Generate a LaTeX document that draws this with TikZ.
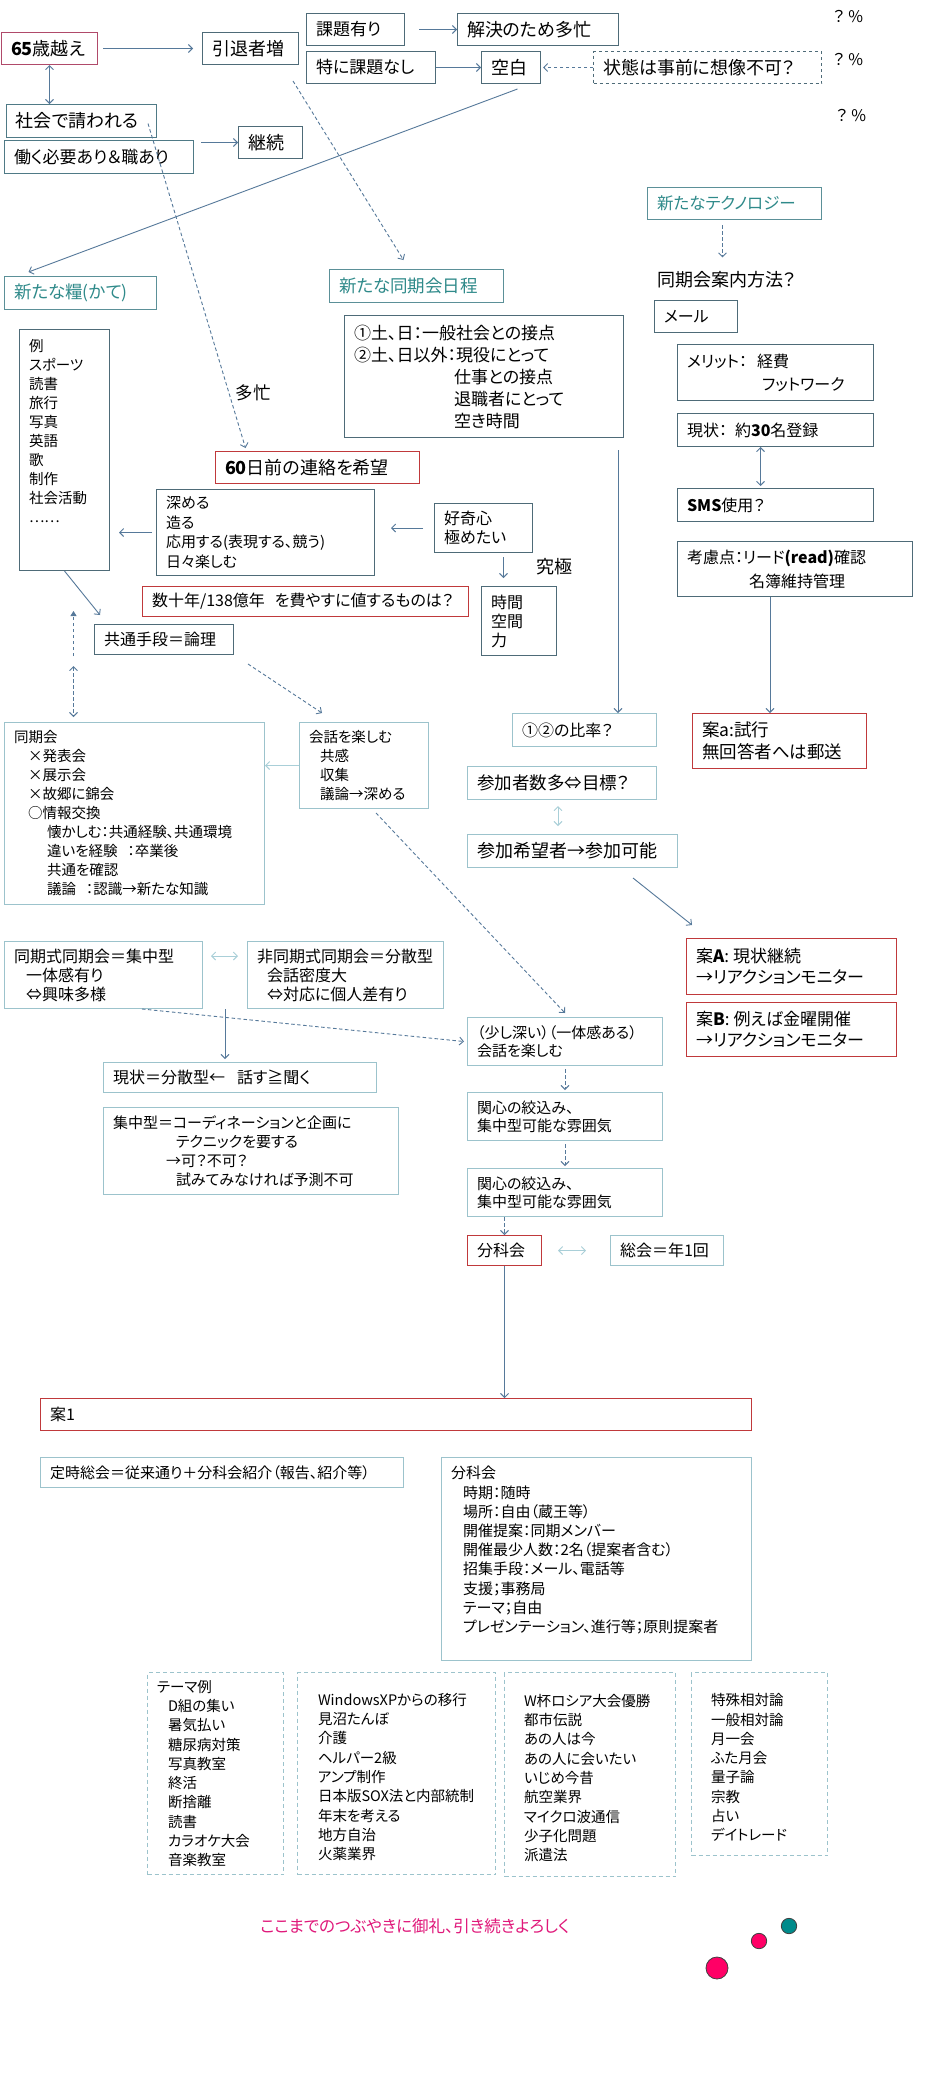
\documentclass[tikz,border=0pt]{standalone}
\usepackage{fontspec}
\setmainfont{Noto Sans CJK JP}[RawFeature=+palt]
\usetikzlibrary{arrows.meta,calc}
\definecolor{darkc}{HTML}{4E6B78}
\definecolor{sboxc}{HTML}{4F7A86}
\definecolor{tealb}{HTML}{5B9098}
\definecolor{tealtext}{HTML}{2F8A8A}
\definecolor{lightb}{HTML}{9CC3CC}
\definecolor{redc}{HTML}{C0393B}
\definecolor{pinkc}{HTML}{B04A6A}
\definecolor{arrc}{HTML}{56799A}
\definecolor{lightarr}{HTML}{A9CFD8}
\definecolor{pinkt}{HTML}{E0187A}
\definecolor{dotpink}{HTML}{FF0066}
\definecolor{dotteal}{HTML}{008B8B}
\newcommand\fz[2]{\fontsize{#1}{#2}\selectfont}
\newcommand\bx[8]{%
  \pgfmathsetmacro\tw{#5-19}%
  \node[#1, anchor=north west, minimum width=#5pt, minimum height=#6pt,
        text width=\tw pt, inner xsep=9.5pt, inner ysep=0pt, align=left,
        font=#7] (#2) at (#3,#4) {#8};}
\tikzset{
  dbox/.style={draw=darkc, line width=1pt},
  sbox/.style={draw=sboxc, line width=1pt},
  tbox/.style={draw=tealb, line width=1pt, text=tealtext},
  lbox/.style={draw=lightb, line width=1pt},
  rbox/.style={draw=redc, line width=1pt},
  pbox/.style={draw=pinkc, line width=1pt},
  thbox/.style={draw=lightb, line width=1pt, dash pattern=on 4pt off 3pt},
  arr/.style={draw=arrc, line width=0.9pt},
  darr/.style={draw=arrc, line width=0.9pt, dash pattern=on 3.5pt off 2.5pt},
  larr/.style={draw=lightarr, line width=0.9pt},
  lbl/.style={inner sep=0pt}
}
\begin{document}
\begin{tikzpicture}[x=1pt,y=-1pt, >={Straight Barb[length=4pt,width=8pt]}]
\fill[white] (0,0) rectangle (928,2080);
\useasboundingbox (0,0) rectangle (928,2080);

% ---------- top ----------
\bx{pbox}{n65}{1}{32}{96}{32}{\fz{18pt}{22pt}}{\textbf{65}歳越え}
\bx{dbox}{inret}{202}{32}{96}{32}{\fz{18pt}{22pt}}{引退者増}
\bx{dbox}{kadai}{306}{13}{98}{32}{\fz{17pt}{21pt}}{課題有り}
\bx{dbox}{tokuni}{306}{51}{129}{32}{\fz{17pt}{21pt}}{特に課題なし}
\bx{dbox}{kaiketsu}{457}{13}{161}{32}{\fz{18pt}{22pt}}{解決のため多忙}
\bx{dbox}{kuhaku}{481}{51}{59}{32}{\fz{18pt}{22pt}}{空白}
\bx{dbox,dashed}{joutai}{593}{51}{228}{32}{\fz{18pt}{22pt}}{状態は事前に想像不可？}
\node[lbl, font=\fz{16pt}{20pt}] (pct1) at (848,17) {？\hspace*{4pt}\%};
\node[lbl, font=\fz{16pt}{20pt}] (pct2) at (848,60) {？\hspace*{4pt}\%};
\node[lbl, font=\fz{16pt}{20pt}] (pct3) at (851,116) {？\hspace*{4pt}\%};
\bx{sbox}{shakai}{6}{104}{150}{33}{\fz{18pt}{22pt}}{社会で請われる}
\bx{sbox}{hataraku}{4}{140}{189}{33}{\fz{17pt}{21pt}}{働く必要あり＆職あり}
\bx{dbox}{keizoku}{238}{126}{64}{32}{\fz{18pt}{22pt}}{継続}
\bx{tbox}{kate}{4}{276}{152}{33}{\fz{17.5pt}{21pt}}{新たな糧(かて)}
\bx{tbox}{doki}{329}{269}{174}{33}{\fz{17.5pt}{21pt}}{新たな同期会日程}
\bx{tbox}{tech}{647}{187}{174}{32}{\fz{16.5pt}{20pt}}{新たなテクノロジー}
\node[lbl, anchor=west, font=\fz{18pt}{22pt}] (annai) at (657,280) {同期会案内方法？};
\bx{dbox}{mail}{654}{300}{83}{32}{\fz{16pt}{20pt}}{メール}
\bx{dbox}{merit}{677}{344}{196}{56}{\fz{16pt}{23pt}}{メリット：\hspace*{10pt}経費\\\hspace*{75pt}フットワーク}
\bx{dbox}{genjo}{677}{413}{196}{33}{\fz{16pt}{20pt}}{現状：\hspace*{8pt}約\textbf{30}名登録}
\bx{dbox}{sms}{677}{488}{196}{33}{\fz{16pt}{20pt}}{\textbf{SMS}使用？}
\bx{dbox}{kouryo}{677}{541}{235}{55}{\fz{16pt}{24pt}}{考慮点：リード\textbf{(read)}確認\\\hspace*{62pt}名簿維持管理}
\bx{rbox}{ana}{692}{713}{174}{55}{\fz{17.5pt}{22pt}}{案a:試行\\無回答者へは郵送}

% ---------- middle ----------
\bx{rbox}{sixty}{215}{451}{204}{32}{\fz{18pt}{22pt}}{\textbf{60}日前の連絡を希望}
\node[lbl, font=\fz{17.5pt}{21pt}] (tabou) at (253,393) {多忙};
\bx{dbox}{nichi}{344}{315}{279}{122}{\fz{17pt}{22pt}}{①土、日：一般社会との接点\\②土、日以外：現役にとって\\\hspace*{100pt}仕事との接点\\\hspace*{100pt}退職者にとって\\\hspace*{100pt}空き時間}
\bx{dbox}{rei}{19}{329}{90}{241}{\fz{14.5pt}{19pt}}{例\\スポーツ\\読書\\旅行\\写真\\英語\\歌\\制作\\社会活動\\……\\\mbox{}\\\mbox{}}
\bx{dbox}{fukameru}{156}{489}{218}{86}{\fz{15pt}{19.5pt}}{深める\\造る\\応用する(表現する、競う)\\日々楽しむ}
\bx{dbox}{kouki}{434}{503}{98}{49}{\fz{16pt}{19pt}}{好奇心\\極めたい}
\node[lbl, font=\fz{18pt}{22pt}] (kyukyoku) at (554,567) {究極};
\bx{dbox}{jikan}{481}{586}{75}{69}{\fz{16pt}{19pt}}{時間\\空間\\力}
\bx{rbox}{kazu}{142}{586}{326}{30}{\fz{16pt}{20pt}}{数十年/138億年\hspace*{10pt}を費やすに値するものは？}
\bx{dbox}{kyotsu}{94}{624}{139}{30}{\fz{16pt}{20pt}}{共通手段＝論理}
\bx{lbox}{dkk}{4}{722}{260}{182}{\fz{14.5pt}{19pt}}{同期会\\\hspace*{14pt}×発表会\\\hspace*{14pt}×展示会\\\hspace*{14pt}×故郷に錦会\\\hspace*{14pt}○情報交換\\\hspace*{33pt}懐かしむ：共通経験、共通環境\\\hspace*{33pt}違いを経験\hspace*{10pt}：卒業後\\\hspace*{33pt}共通を確認\\\hspace*{33pt}議論\hspace*{10pt}：認識→新たな知識}
\bx{lbox}{kaiwa}{299}{722}{129}{86}{\fz{14.5pt}{19pt}}{会話を楽しむ\\\hspace*{11pt}共感\\\hspace*{11pt}収集\\\hspace*{11pt}議論→深める}
\bx{lbox}{hiritsu}{512}{713}{144}{33}{\fz{16pt}{20pt}}{①②の比率？}
\bx{lbox}{sanka1}{467}{766}{189}{33}{\fz{17.5pt}{21pt}}{参加者数多⇔目標？}
\bx{lbox}{sanka2}{467}{834}{210}{33}{\fz{18pt}{22pt}}{参加希望者→参加可能}
\bx{rbox}{anAA}{686}{938}{210}{56}{\fz{17pt}{21pt}}{案\textbf{A}:\hspace*{4pt}現状継続\\→リアクションモニター}
\bx{rbox}{anB}{686}{1002}{210}{54}{\fz{17pt}{21pt}}{案\textbf{B}:\hspace*{4pt}例えば金曜開催\\→リアクションモニター}
\bx{lbox}{dokis}{4}{941}{198}{67}{\fz{16pt}{19pt}}{同期式同期会＝集中型\\\hspace*{12pt}一体感有り\\\hspace*{12pt}⇔興味多様}
\bx{lbox}{hidoki}{247}{941}{196}{67}{\fz{16pt}{19pt}}{非同期式同期会＝分散型\\\hspace*{10pt}会話密度大\\\hspace*{10pt}⇔対応に個人差有り}
\bx{lbox}{genjo2}{103}{1062}{273}{30}{\fz{16pt}{20pt}}{現状＝分散型←\hspace*{12pt}話す≧聞く}
\bx{lbox}{shuchu}{103}{1107}{295}{87}{\fz{15pt}{19pt}}{集中型＝コーディネーションと企画に\\\hspace*{63pt}テクニックを要する\\\hspace*{53pt}→可？不可？\\\hspace*{63pt}試みてみなければ予測不可}
\bx{lbox}{sukoshi}{467}{1017}{195}{48}{\fz{15pt}{18pt}}{（少し深い）（一体感ある）\\会話を楽しむ}
\bx{lbox}{kanshin1}{467}{1092}{195}{48}{\fz{15pt}{18pt}}{関心の絞込み、\\集中型可能な雰囲気}
\bx{lbox}{kanshin2}{467}{1168}{195}{48}{\fz{15pt}{18pt}}{関心の絞込み、\\集中型可能な雰囲気}
\bx{rbox}{bunka}{467}{1235}{74}{30}{\fz{16pt}{20pt}}{分科会}
\bx{lbox}{sokai}{610}{1235}{113}{30}{\fz{16pt}{20pt}}{総会＝年1回}

% ---------- bottom ----------
\bx{rbox}{an1}{40}{1398}{711}{32}{\fz{16pt}{20pt}}{案1}
\bx{lbox}{teiji}{40}{1457}{363}{30}{\fz{15pt}{19pt}}{定時総会＝従来通り＋分科会紹介（報告、紹介等）}
\bx{lbox}{bunkalist}{441}{1457}{310}{203}{\fz{15pt}{19.2pt}}{分科会\\\hspace*{12pt}時期：随時\\\hspace*{12pt}場所：自由（蔵王等）\\\hspace*{12pt}開催提案：同期メンバー\\\hspace*{12pt}開催最少人数：2名（提案者含む）\\\hspace*{12pt}招集手段：メール、電話等\\\hspace*{12pt}支援；事務局\\\hspace*{12pt}テーマ；自由\\\hspace*{12pt}プレゼンテーション、進行等；原則提案者\\\mbox{}}
\bx{thbox}{th1}{147}{1672}{136}{202}{\fz{14.5pt}{19.3pt}}{テーマ例\\\hspace*{11pt}D組の集い\\\hspace*{11pt}暑気払い\\\hspace*{11pt}糖尿病対策\\\hspace*{11pt}写真教室\\\hspace*{11pt}終活\\\hspace*{11pt}断捨離\\\hspace*{11pt}読書\\\hspace*{11pt}カラオケ大会\\\hspace*{11pt}音楽教室}
\bx{thbox}{th2}{297}{1672}{198}{202}{\fz{14.5pt}{19.3pt}}{\mbox{}\\\hspace*{11pt}WindowsXPからの移行\\\hspace*{11pt}見沼たんぼ\\\hspace*{11pt}介護\\\hspace*{11pt}ヘルパー2級\\\hspace*{11pt}アンプ制作\\\hspace*{11pt}日本版SOX法と内部統制\\\hspace*{11pt}年末を考える\\\hspace*{11pt}地方自治\\\hspace*{11pt}火薬業界}
\bx{thbox}{th3}{504}{1672}{171}{204}{\fz{14.5pt}{19.3pt}}{\mbox{}\\\hspace*{10pt}W杯ロシア大会優勝\\\hspace*{10pt}都市伝説\\\hspace*{10pt}あの人は今\\\hspace*{10pt}あの人に会いたい\\\hspace*{10pt}いじめ今昔\\\hspace*{10pt}航空業界\\\hspace*{10pt}マイクロ波通信\\\hspace*{10pt}少子化問題\\\hspace*{10pt}派遣法}
\bx{thbox}{th4}{691}{1672}{136}{183}{\fz{14.5pt}{19.3pt}}{\mbox{}\\\hspace*{10pt}特殊相対論\\\hspace*{10pt}一般相対論\\\hspace*{10pt}月一会\\\hspace*{10pt}ふた月会\\\hspace*{10pt}量子論\\\hspace*{10pt}宗教\\\hspace*{10pt}占い\\\hspace*{10pt}デイトレード}
\node[lbl, anchor=west, text=pinkt, font=\fz{16.5pt}{20pt}] (thanks) at (260,1926) {ここまでのつぶやきに御礼、引き続きよろしく};
\node[circle, draw=black!75, line width=0.8pt, fill=dotteal, minimum size=15.4pt, inner sep=0pt] (dot1) at (789,1926) {};
\node[circle, draw=black!75, line width=0.8pt, fill=dotpink, minimum size=15.4pt, inner sep=0pt] (dot2) at (759,1941) {};
\node[circle, draw=black!75, line width=0.8pt, fill=dotpink, minimum size=22pt, inner sep=0pt] (dot3) at (717,1968) {};

% ---------- connectors ----------
\draw[arr, ->, shorten <=5pt, shorten >=9pt] (n65) -- (inret);
\draw[arr, <->] (n65.south) -- (n65.south |- shakai.north);
\draw[arr, ->, shorten <=14pt] (kadai) -- (kaiketsu);
\draw[arr, ->] (tokuni) -- (kuhaku);
\draw[darr, ->, shorten >=2pt] (joutai) -- (kuhaku);
\draw[arr, ->] ($(hataraku.east |- keizoku.west)+(7,0)$) -- (keizoku.west);
\draw[arr, ->] ($(kuhaku.south)+(6.5,5)$) -- ($(kate.north)+(-52,-4)$);
\draw[darr, ->] ($(shakai.east)+(-9,2.5)$) -- ($(sixty.north)+(-72,-3)$);
\draw[darr, ->] ($(inret.south east)+(-6,16)$) -- ($(doki.north)+(-13,-9)$);
\draw[darr, ->] ($(tech.south)+(-12,5)$) -- ($(tech.south |- annai.north)+(-12,-14)$);
\draw[arr, ->] (rei.south) -- ($(kyotsu.north west)+(6,-9)$);
\draw[darr, -{Triangle[length=5pt,width=6pt]}] ($(rei.south)+(9,85)$) -- ($(rei.south)+(9,40)$);
\draw[darr, <->] ($(rei.south)+(9,95)$) -- ($(rei.south |- dkk.north)+(9,-5)$);
\draw[darr, ->] ($(kyotsu.south east)+(14,9)$) -- ($(kaiwa.north west)+(23,-9)$);
\draw[larr, ->] (kaiwa.west) -- (kaiwa.west -| dkk.east);
\draw[darr, ->] ($(kaiwa.south)+(12,4)$) -- ($(sukoshi.north)+(0,-4)$);
\draw[arr, ->, shorten <=4pt] (fukameru.west) -- ($(fukameru.west -| rei.east)+(9,0)$);
\draw[arr, ->] ($(kouki.west)+(-11,0)$) -- ($(kouki.west -| fukameru.east)+(16,0)$);
\draw[arr, ->] ($(kouki.south)+(20,4)$) -- ($(kouki.south |- jikan.north)+(20,-8)$);
\draw[arr, ->] ($(nichi.south east)+(-6,12)$) -- ($(nichi.south east |- hiritsu.north)+(-6,0)$);
\draw[arr, ->] ($(kouryo.south)+(-25,0)$) -- ($(kouryo.south |- ana.north)+(-25,0)$);
\draw[arr, <->] ($(genjo.south)+(-15,0)$) -- ($(genjo.south |- sms.north)+(-15,-2)$);
\draw[arr, ->] ($(sanka2.south east)+(-45,10)$) -- ($(anAA.north west)+(6,-13)$);
\draw[larr, <->] ($(sanka1.south)+(-4,6)$) -- ($(sanka1.south |- sanka2.north)+(-4,-8)$);
\draw[larr, <->] ($(dokis.east)+(8,-19)$) -- ($(dokis.east -| hidoki.west)+(-9,-19)$);
\draw[arr, ->] ($(dokis.south east)+(22,0)$) -- ($(dokis.south east |- genjo2.north)+(22,-3)$);
\draw[darr, ->] ($(dokis.south west)+(138,0)$) -- ($(sukoshi.west)+(-3,0)$);
\draw[darr, ->, shorten <=3pt, shorten >=2pt] (sukoshi.south) -- (kanshin1.north);
\draw[darr, ->, shorten <=3pt, shorten >=2pt] (kanshin1.south) -- (kanshin2.north);
\draw[darr, ->] (kanshin2.south -| bunka.north) -- (bunka.north);
\draw[larr, <->, shorten <=16pt, shorten >=24pt] (bunka.east) -- (sokai.west);
\draw[arr, ->] (bunka.south) -- (bunka.south |- an1.north);
\end{tikzpicture}
\end{document}
